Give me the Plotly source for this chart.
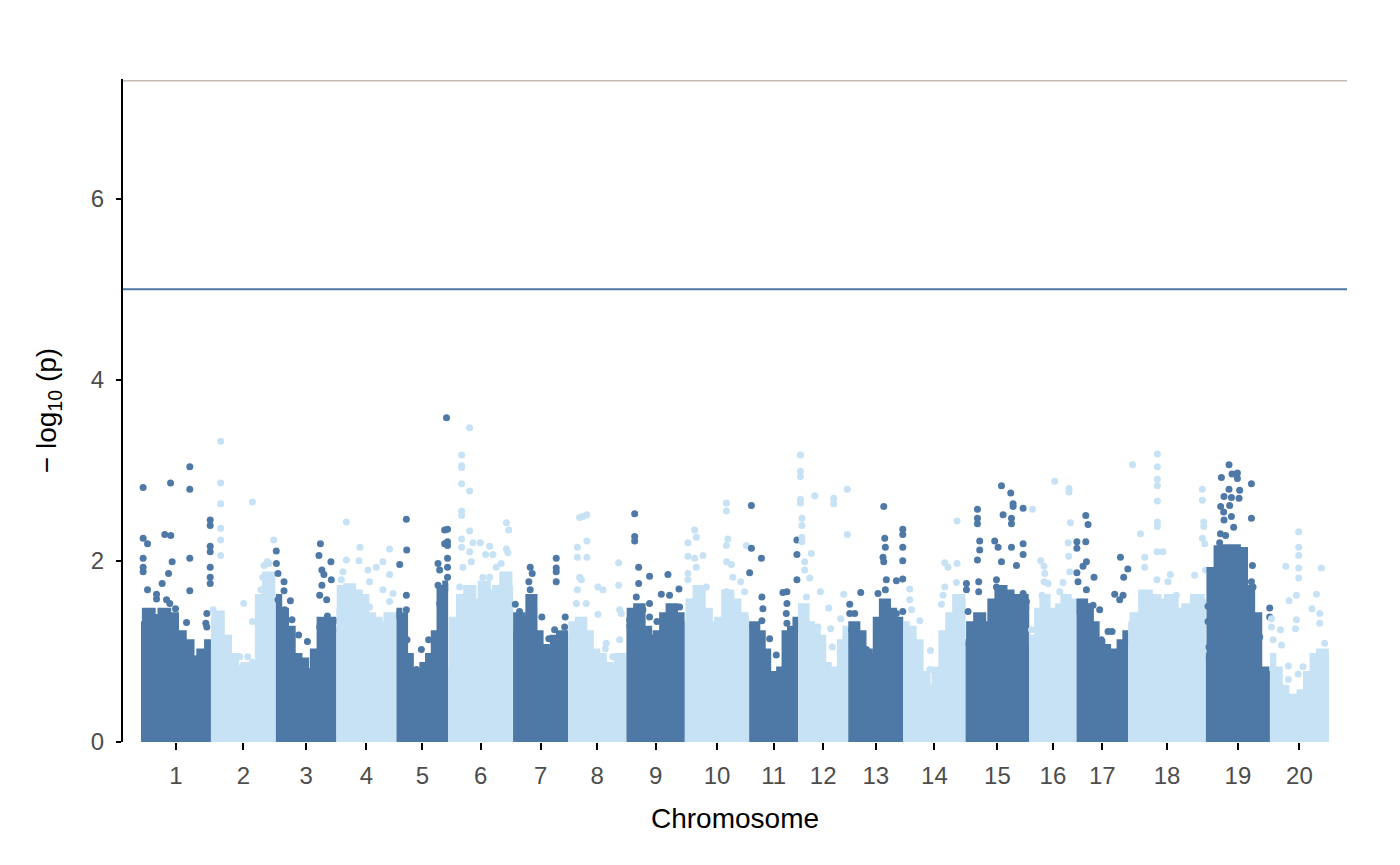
import numpy as np
import plotly.graph_objects as go

# chromosome lengths (Mb)
chrom_names = [str(i) for i in range(1, 21)]
chrom_len = [55.9, 51.9, 48.4, 48.0, 41.3, 51.9, 44.0, 46.6, 46.7, 51.4,
             39.2, 40.0, 44.0, 49.8, 50.9, 37.8, 41.3, 62.1, 51.2, 47.2]

# upper edge of the dense SNP cloud, evenly spaced along each chromosome
body_top = [
    [1.30, 1.45, 1.38, 1.45, 1.40, 1.20, 1.10, 0.92, 1.00, 1.10],
    [1.35, 1.42, 1.15, 0.95, 0.82, 0.85, 0.85, 1.60, 1.85, 1.50],
    [1.60, 1.45, 1.25, 0.95, 0.90, 0.78, 1.00, 1.35, 1.35, 1.25],
    [1.45, 1.70, 1.72, 1.65, 1.60, 1.40, 1.35, 1.30, 1.40, 1.35],
    [1.45, 1.40, 0.95, 0.75, 0.72, 0.85, 0.95, 1.20, 1.70, 1.75],
    [0.80, 1.35, 1.60, 1.70, 1.55, 1.75, 1.65, 1.70, 1.85, 1.70],
    [1.20, 1.40, 1.35, 1.60, 1.20, 1.05, 1.00, 1.15, 1.20, 1.15],
    [1.00, 1.30, 1.35, 1.20, 1.00, 0.95, 0.85, 0.82, 0.95, 0.90],
    [1.30, 1.45, 1.50, 1.25, 1.15, 1.20, 1.40, 1.50, 1.40, 1.30],
    [1.30, 1.55, 1.70, 1.45, 1.30, 1.35, 1.65, 1.55, 1.40, 1.35],
    [1.30, 1.30, 1.20, 1.00, 0.75, 0.60, 0.80, 1.20, 1.25, 1.35],
    [1.40, 1.50, 1.30, 1.25, 1.15, 0.85, 0.80, 0.75, 1.10, 1.25],
    [1.25, 1.30, 1.20, 1.00, 0.95, 1.35, 1.55, 1.45, 1.35, 1.30],
    [1.30, 1.25, 1.10, 0.75, 0.60, 0.80, 1.20, 1.40, 1.60, 1.55],
    [1.10, 1.30, 1.40, 1.30, 1.55, 1.70, 1.65, 1.60, 1.60, 1.50],
    [1.10, 1.15, 1.45, 1.60, 1.45, 1.40, 1.50, 1.60, 1.55, 1.50],
    [1.45, 1.55, 1.50, 1.30, 1.10, 1.05, 1.00, 1.00, 1.10, 1.20],
    [1.30, 1.40, 1.65, 1.60, 1.55, 1.60, 1.45, 1.50, 1.60, 1.55],
    [0.95, 1.90, 2.14, 2.15, 2.15, 2.12, 1.70, 1.40, 0.80, 0.75],
    [0.95, 0.80, 0.60, 0.50, 0.50, 0.55, 0.75, 0.95, 1.00, 0.95],
]

# single SNPs standing out above the cloud: (position in Mb, -log10 p)
pts_1 = [(1.7, 2.81), (1.7, 2.25), (1.7, 2.03), (1.7, 1.93), (1.7, 1.88), (5.2, 2.19), (5.2, 1.68),
         (12.4, 1.63), (12.4, 1.58), (16.9, 1.75), (19.0, 2.29), (20.4, 1.57), (22.0, 1.86), (23.0, 1.53),
         (23.6, 2.86), (23.8, 2.28), (24.9, 1.99), (27.6, 1.47), (30.2, 1.18), (36.4, 1.32), (39.0, 3.04),
         (39.0, 2.79), (39.0, 2.03), (39.0, 1.67), (44.4, 0.92), (52.6, 1.42), (52.6, 1.27), (51.8, 1.31),
         (55.3, 2.45), (55.3, 2.39), (55.3, 2.16), (55.3, 2.10), (55.3, 1.93), (55.3, 1.82), (55.3, 1.75)]
pts_2 = [(1.7, 1.46), (7.8, 3.32), (7.8, 2.86), (7.8, 2.63), (7.8, 2.36), (7.8, 2.23), (7.8, 2.06),
         (23.0, 0.94), (29.4, 0.94), (26.2, 1.53), (33.2, 2.65), (33.2, 1.33), (33.2, 0.88), (39.5, 1.38),
         (40.0, 1.53), (40.0, 1.68), (41.5, 1.82), (42.5, 1.95), (45.0, 1.99), (46.5, 1.97), (50.2, 2.23)]
pts_3 = [(0.3, 2.11), (0.4, 1.97), (1.7, 1.86), (6.5, 1.77), (6.5, 1.67), (1.7, 1.57), (11.6, 1.56),
         (7.0, 1.46), (12.9, 1.35), (18.2, 1.18), (25.2, 1.11), (35.6, 2.19), (34.4, 2.06), (36.8, 1.90),
         (38.4, 1.85), (44.0, 1.99), (44.3, 1.79), (40.6, 1.57), (35.0, 1.62), (36.8, 1.73), (41.2, 1.39),
         (47.0, 1.34), (35.0, 1.27)]
pts_4 = [(7.9, 2.43), (18.8, 2.15), (42.5, 2.13), (37.2, 1.99), (31.9, 1.93), (25.2, 1.90), (18.0, 2.00),
         (7.9, 2.01), (5.2, 1.88), (3.9, 1.79), (26.5, 1.77), (42.5, 1.85), (37.2, 1.68), (45.2, 1.64),
         (42.5, 1.55), (26.5, 1.49), (27.9, 1.27)]
pts_5 = [(7.9, 2.46), (8.2, 2.12), (2.6, 1.96), (7.9, 1.62), (7.9, 1.46), (8.4, 1.13), (19.9, 1.02),
         (15.9, 0.80), (25.7, 1.13), (33.2, 1.97), (34.5, 1.90), (33.2, 1.73), (34.5, 1.53), (35.9, 1.38),
         (38.5, 2.34), (38.5, 2.19), (40.0, 3.58), (40.8, 2.35), (40.8, 2.21), (40.8, 2.17), (40.8, 2.03),
         (40.8, 1.93), (40.8, 1.82)]
pts_6 = [(17.2, 3.47), (10.8, 3.17), (10.8, 3.05), (10.8, 3.03), (10.8, 2.85), (10.8, 2.55), (10.8, 2.50),
         (10.8, 2.24), (10.8, 2.15), (17.2, 2.77), (17.2, 2.33), (17.2, 2.10), (19.8, 2.20), (25.7, 2.20),
         (33.2, 2.16), (30.0, 2.07), (35.8, 2.07), (46.6, 2.42), (48.4, 2.34), (46.6, 2.13), (47.8, 2.09),
         (18.5, 1.99), (11.8, 1.93), (27.7, 1.82), (33.2, 1.82), (42.4, 1.97), (38.4, 1.93), (26.5, 1.68),
         (9.2, 1.71), (29.2, 1.57)]
pts_7 = [(1.8, 1.52), (13.7, 1.93), (15.3, 1.86), (12.6, 1.77), (13.7, 1.68), (5.2, 1.44), (23.0, 1.38),
         (34.5, 2.03), (34.5, 1.92), (34.5, 1.88), (34.5, 1.77), (41.7, 1.38), (41.2, 1.27), (33.2, 1.24),
         (28.6, 1.14), (26.5, 1.03)]
pts_8 = [(9.2, 2.48), (11.8, 2.49), (15.0, 2.51), (7.4, 2.15), (7.4, 2.04), (15.0, 2.22), (15.0, 2.04),
         (9.2, 1.82), (10.6, 1.79), (7.4, 1.68), (6.6, 1.53), (23.8, 1.71), (27.8, 1.68), (23.8, 1.41),
         (40.4, 1.98), (40.4, 1.73), (41.2, 1.46), (42.5, 1.42), (30.5, 1.09), (29.7, 1.03), (35.8, 0.94),
         (41.2, 1.13), (14.5, 1.53)]
pts_9 = [(6.6, 2.52), (6.6, 2.27), (6.6, 2.22), (9.8, 1.93), (18.5, 1.83), (33.2, 1.85), (27.9, 1.63),
         (34.5, 1.62), (42.0, 1.69), (9.8, 1.75), (7.9, 1.60), (18.5, 1.53), (13.2, 1.46), (18.5, 1.38),
         (24.4, 1.33), (26.5, 1.14), (42.5, 1.49), (2.6, 1.35)]
pts_10 = [(7.8, 2.34), (9.2, 2.26), (2.5, 2.20), (2.5, 2.05), (14.5, 2.06), (7.8, 2.03), (9.2, 1.93),
          (2.5, 1.86), (2.5, 1.79), (17.2, 1.71), (33.2, 2.64), (33.2, 2.55), (34.4, 2.24), (33.2, 2.17),
          (33.4, 1.99), (37.2, 1.96), (38.4, 1.82), (33.2, 1.66), (44.6, 1.77), (47.8, 1.66), (49.2, 2.17)]
pts_11 = [(1.8, 2.61), (1.8, 2.14), (0.4, 1.87), (9.8, 2.03), (10.2, 1.60), (11.0, 1.47), (10.2, 1.34),
          (5.8, 1.27), (16.4, 1.14), (21.7, 0.96), (20.4, 0.72), (27.0, 1.65), (30.2, 1.66), (30.2, 1.53),
          (29.7, 1.42), (30.2, 1.31), (38.2, 2.23), (38.2, 2.07), (38.2, 1.79)]
pts_12 = [(1.8, 3.17), (1.8, 2.99), (1.8, 2.93), (1.8, 2.68), (1.8, 2.64), (3.0, 2.47), (3.0, 2.39),
          (3.0, 2.26), (3.0, 2.21), (13.2, 2.72), (28.4, 2.69), (28.4, 2.63), (39.3, 2.79), (39.3, 2.29),
          (10.5, 2.08), (5.2, 1.99), (5.2, 1.90), (9.2, 1.81), (17.7, 1.66), (24.4, 1.48), (26.0, 1.25),
          (27.3, 1.05), (36.4, 1.63), (34.0, 1.36), (15.8, 1.27), (6.6, 1.60)]
pts_13 = [(28.4, 2.60), (29.2, 2.25), (29.7, 2.15), (27.8, 2.04), (28.4, 1.99), (30.5, 1.79), (29.7, 1.68),
          (43.6, 2.35), (43.6, 2.29), (43.6, 2.15), (43.6, 2.00), (43.6, 1.80), (38.5, 1.78), (43.6, 1.44),
          (38.5, 1.42), (10.0, 1.65), (1.2, 1.52), (5.2, 1.42), (1.2, 1.42), (14.5, 1.02), (23.8, 1.64)]
pts_14 = [(5.2, 1.69), (5.2, 1.57), (6.6, 1.46), (13.2, 1.34), (21.7, 1.01), (21.3, 0.80), (33.2, 1.98),
          (35.8, 1.93), (43.0, 1.97), (33.2, 1.71), (31.8, 1.62), (42.5, 1.76), (43.0, 2.44), (30.5, 1.52)]
pts_15 = [(28.7, 2.83), (36.1, 2.75), (30.0, 2.51), (38.0, 2.63), (38.0, 2.60), (36.7, 2.47), (36.7, 2.41),
          (46.0, 2.58), (9.5, 2.57), (9.5, 2.47), (9.5, 2.41), (11.3, 2.22), (11.3, 2.12), (9.5, 2.01),
          (23.3, 2.22), (26.0, 2.15), (28.7, 1.99), (46.0, 2.19), (46.0, 2.07), (36.7, 2.15), (40.7, 1.95),
          (0.7, 1.75), (0.7, 1.68), (10.5, 1.77), (10.5, 1.66), (24.7, 1.79), (24.7, 1.71), (46.0, 1.64),
          (48.7, 1.55), (2.0, 1.44)]
pts_16 = [(2.6, 2.57), (9.2, 2.00), (11.8, 1.94), (12.4, 1.86), (11.8, 1.77), (15.0, 1.75), (20.4, 2.88),
          (31.8, 2.80), (31.8, 2.76), (32.9, 2.42), (31.2, 2.20), (31.5, 2.05), (32.4, 1.88), (27.0, 1.76),
          (24.4, 1.66), (10.2, 1.62), (12.4, 1.46), (1.8, 1.24)]
pts_17 = [(7.4, 2.50), (9.2, 2.40), (0.3, 2.21), (0.3, 2.14), (7.4, 2.21), (7.9, 1.99), (5.2, 1.94),
          (14.0, 1.82), (0.3, 1.87), (1.2, 1.77), (7.9, 1.68), (13.2, 1.51), (18.5, 1.46), (35.1, 2.04),
          (41.0, 1.91), (37.7, 1.82), (30.5, 1.63), (37.2, 1.62), (34.5, 1.57), (25.2, 1.22), (28.4, 1.22),
          (19.9, 1.13)]
pts_18 = [(3.4, 3.06), (23.3, 3.18), (23.3, 3.04), (23.3, 2.90), (23.3, 2.83), (23.3, 2.66), (23.3, 2.43),
          (23.3, 2.38), (9.8, 2.30), (13.2, 2.04), (23.0, 2.10), (27.8, 2.10), (33.7, 1.85), (31.8, 1.77),
          (59.3, 2.79), (59.3, 2.67), (60.4, 2.43), (60.4, 2.38), (59.3, 2.25), (61.2, 2.19), (53.1, 1.84),
          (61.8, 1.90), (23.0, 1.79), (38.5, 1.62), (13.2, 1.93)]
pts_19 = [(18.5, 3.06), (12.4, 2.92), (20.9, 2.96), (25.2, 2.97), (25.2, 2.91), (36.4, 2.85), (18.5, 2.79),
          (27.0, 2.78), (14.5, 2.71), (20.4, 2.70), (26.5, 2.69), (11.8, 2.60), (19.0, 2.61), (14.2, 2.54),
          (20.4, 2.49), (14.5, 2.45), (22.2, 2.37), (36.4, 2.47), (11.6, 2.30), (15.8, 2.28), (11.0, 2.20),
          (37.2, 1.95), (1.7, 1.50), (1.7, 1.33), (2.5, 1.05), (36.4, 1.77), (37.7, 1.71), (51.0, 1.48),
          (51.0, 1.38), (43.0, 1.16), (28.4, 1.68), (28.4, 1.57)]
pts_20 = [(23.0, 2.32), (23.0, 2.15), (23.0, 2.06), (23.0, 1.92), (23.0, 1.81), (21.2, 1.62), (41.2, 1.92),
          (37.2, 1.63), (12.6, 1.94), (15.3, 1.56), (8.4, 1.24), (1.2, 1.36), (1.2, 1.27), (21.2, 1.35),
          (20.4, 1.25), (33.6, 1.47), (39.8, 1.42), (39.8, 1.31), (43.8, 1.09), (14.8, 0.69), (22.5, 0.75),
          (14.8, 0.84), (26.5, 0.83), (2.5, 1.13), (9.2, 1.07)]
chrom_pts = [pts_1, pts_2, pts_3, pts_4, pts_5, pts_6, pts_7, pts_8, pts_9, pts_10,
             pts_11, pts_12, pts_13, pts_14, pts_15, pts_16, pts_17, pts_18, pts_19, pts_20]

suggestive = 5.0
genomewide = 7.3

dark = "#4E79A7"
light = "#C6E2F4"
font = "Liberation Sans, Arial, sans-serif"

starts = np.concatenate([[0], np.cumsum(chrom_len)[:-1]])
centers = starts + np.array(chrom_len) / 2
total = float(np.sum(chrom_len))

fig = go.Figure()
for i, (s, L) in enumerate(zip(starts, chrom_len)):
    col = dark if i % 2 == 0 else light
    top = body_top[i]
    xs = np.linspace(s, s + L, len(top))
    fig.add_trace(go.Scatter(x=xs, y=top, mode="lines", fill="tozeroy", fillcolor=col,
                             line=dict(color=col, width=6, shape="hvh"),
                             hoverinfo="skip", showlegend=False))
    px = [s + p for p, v in chrom_pts[i]]
    py = [v for p, v in chrom_pts[i]]
    fig.add_trace(go.Scatter(x=px, y=py, mode="markers", marker=dict(color=col, size=7),
                             name="chr" + chrom_names[i], showlegend=False))

fig.add_shape(type="line", xref="paper", x0=0, x1=1, yref="y", y0=suggestive, y1=suggestive,
              line=dict(color=dark, width=2))
fig.add_shape(type="line", xref="paper", x0=0, x1=1, yref="y", y0=genomewide, y1=genomewide,
              line=dict(color="#C9B8B4", width=1.5))

pad = 14.4
# page body adds 8px around the figure, so the figure is a little smaller than the window
fig.update_layout(
    width=1383, height=848,
    margin=dict(l=115, r=44, t=71, b=114),
    paper_bgcolor="white", plot_bgcolor="white",
    font=dict(family=font),
    xaxis=dict(range=[-pad, total + pad], tickvals=centers, ticktext=chrom_names,
               ticks="outside", ticklen=7, tickwidth=2, tickcolor="black",
               ticklabelstandoff=5,
               showline=False, showgrid=False, zeroline=False,
               tickfont=dict(size=24, color="#4D4D4D"),
               title=dict(text="Chromosome", font=dict(size=28, color="black"), standoff=20)),
    yaxis=dict(range=[0, 7.32], tickvals=[0, 2, 4, 6],
               ticks="outside", ticklen=5, tickwidth=2, tickcolor="black",
               ticklabelstandoff=7,
               showline=True, linewidth=2, linecolor="black",
               showgrid=False, zeroline=False,
               tickfont=dict(size=24, color="#4D4D4D"),
               title=dict(text="\u2212 log<sub>10</sub> (p)", font=dict(size=28, color="black"),
                          standoff=26)),
)

fig.write_html("out.html")
